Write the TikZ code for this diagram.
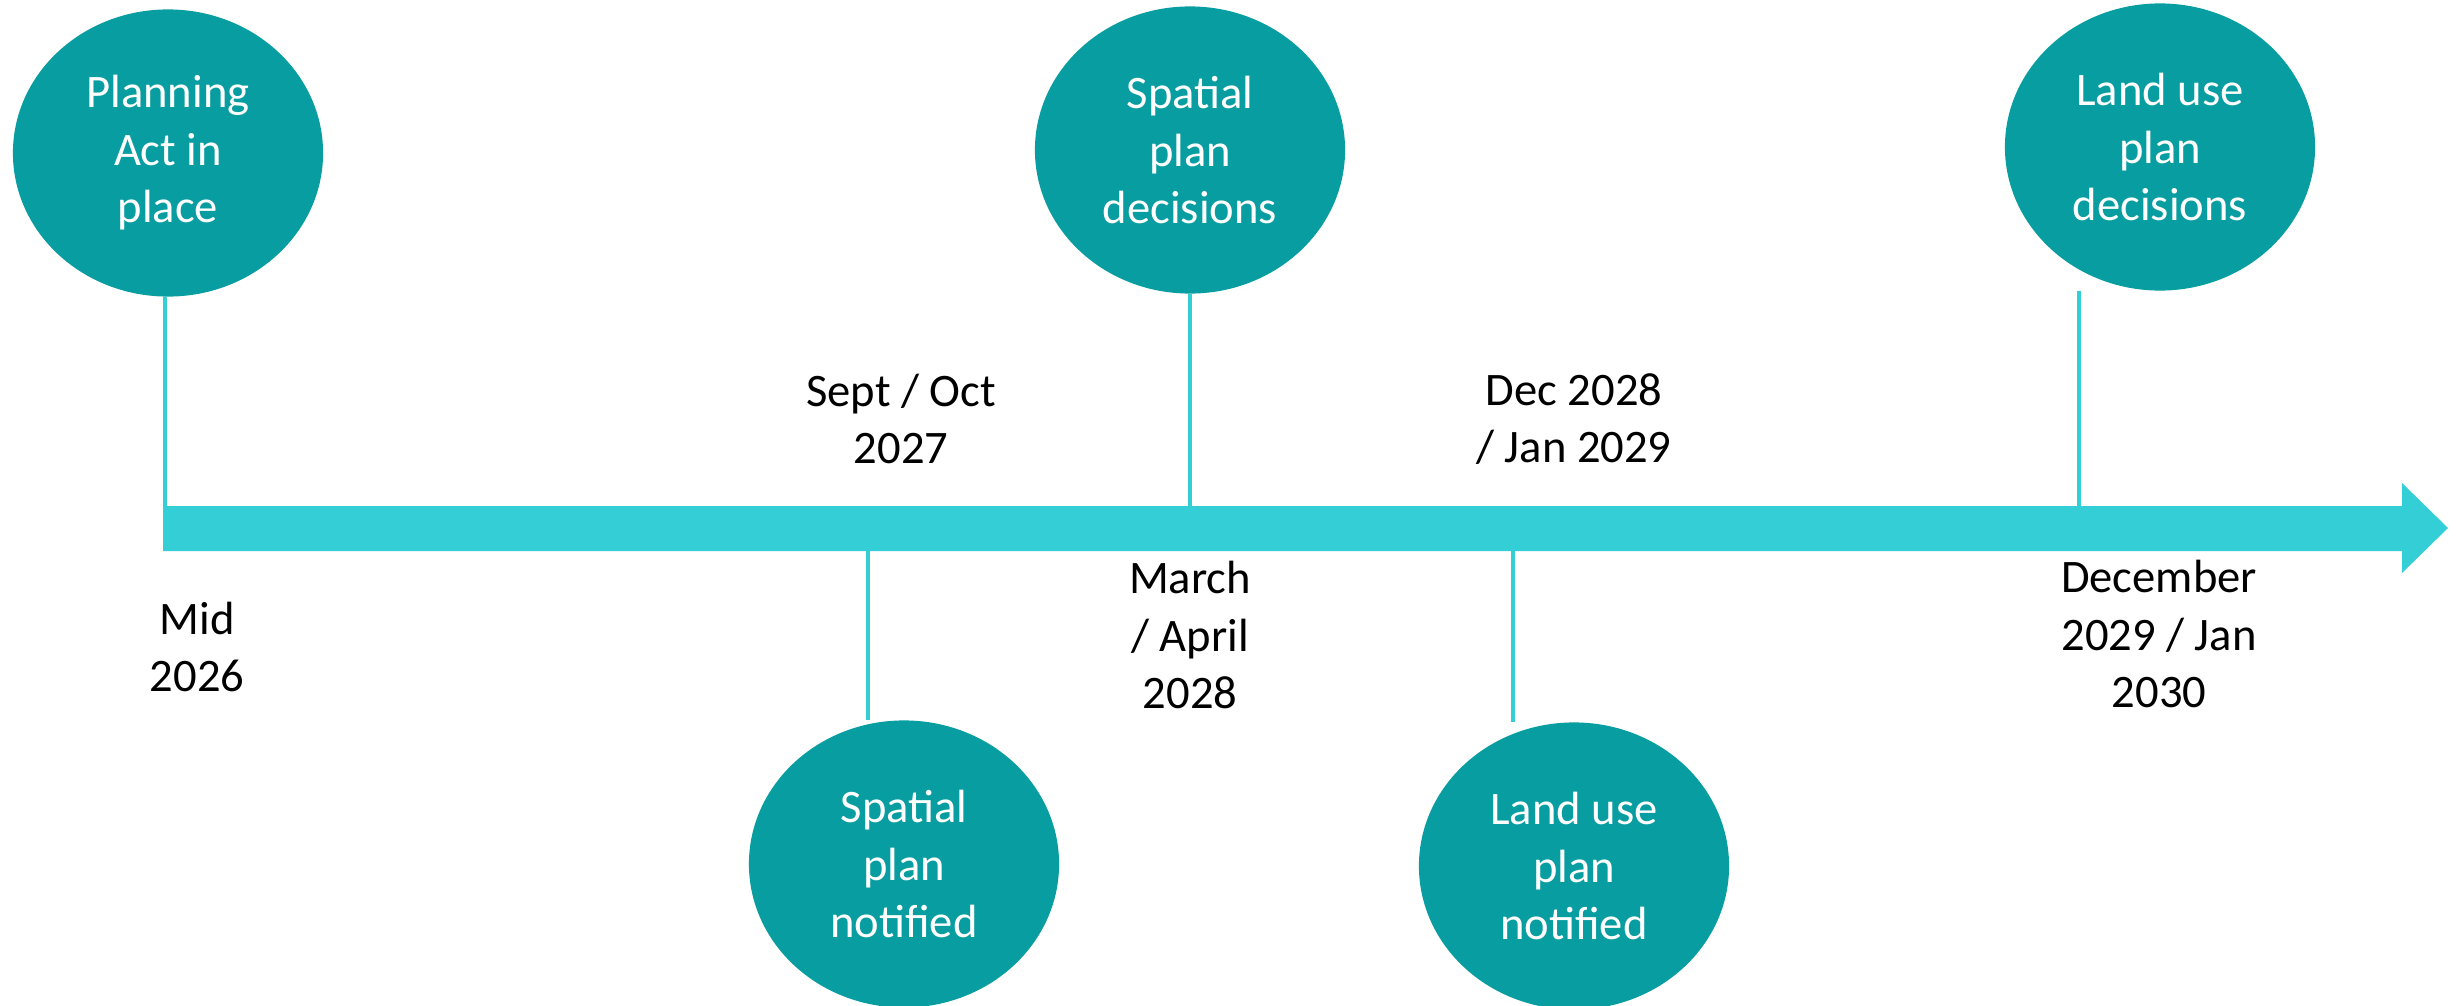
\documentclass[tikz,border=0pt]{standalone}
\usepackage{fontspec}
\setmainfont{Carlito}
\usetikzlibrary{shapes.geometric,backgrounds}
\definecolor{tealdark}{HTML}{089DA0}
\definecolor{tealbar}{HTML}{33CED6}

\begin{document}
\begin{tikzpicture}[x=0.01cm,y=-0.01cm,
  event/.style={ellipse,fill=tealdark,text=white,inner sep=0pt,
    minimum width=3.1cm,minimum height=2.87cm,align=center,
    font=\fontsize{13.25}{16.35}\selectfont},
  date/.style={align=center,font=\fontsize{13.25}{16.35}\selectfont},
  tick/.style={tealbar,line width=1.15pt}]
  \useasboundingbox (0,0) rectangle (2456,1006);

  % Timeline arrow
  \fill[tealbar] (163,506) -- (2402,506) -- (2402,483) -- (2448,528)
    -- (2402,573) -- (2402,551) -- (163,551) -- cycle;

  % Where the ticks meet the bar
  \coordinate (t1) at (165,506);
  \coordinate (t2) at (868,551);
  \coordinate (t3) at (1190,506);
  \coordinate (t4) at (1513,551);
  \coordinate (t5) at (2079,506);

  % Milestones
  \node[event] (act) at (168,153) {Planning\\Act in\\place};
  \node[event] (spn) at (904,864) {Spatial\\plan\\notified};
  \node[event] (spd) at (1190,150) {Spatial\\plan\\decisions};
  \node[event] (lun) at (1574,866) {Land use\\plan\\notified};
  \node[event] (lud) at (2160,147) {Land use\\plan\\decisions};

  % Dates
  \node[date] (d1) at (197,647) {Mid\\2026};
  \node[date] (d2) at (901,419) {Sept / Oct\\2027};
  \node[date] (d3) at (1190,635) {March\\/ April\\2028};
  \node[date] (d4) at (1574,419) {Dec 2028\\/ Jan 2029};
  \node[date] (d5) at (2159,634) {December\\2029 / Jan\\2030};

  \begin{scope}[on background layer]
    \draw[tick] (t1) -- (t1 |- act.south);
    \draw[tick] (t2) -- (t2 |- spn.north);
    \draw[tick] (t3) -- (t3 |- spd.south);
    \draw[tick] (t4) -- (t4 |- lun.north);
    \draw[tick] (t5) -- (t5 |- lud.south);
  \end{scope}
\end{tikzpicture}
\end{document}
